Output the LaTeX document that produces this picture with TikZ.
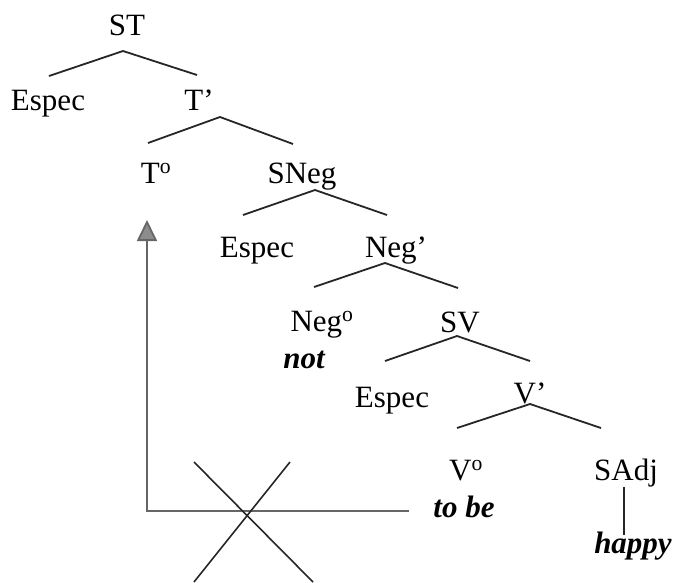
\documentclass[tikz,border=0pt]{standalone}
\usepackage{fontspec}
\setmainfont{Liberation Serif}
\usetikzlibrary{arrows.meta}
\begin{document}
\begin{tikzpicture}[x=1pt,y=-1pt,
  lbl/.style={anchor=base,inner sep=0pt,font=\fontsize{31}{36}\selectfont},
  lex/.style={anchor=base,inner sep=0pt,font=\fontsize{31}{36}\selectfont\bfseries\itshape},
  branch/.style={line width=1.8pt,black!85},
  movearrow/.style={line width=1.8pt,black!60,-{Triangle[length=21pt,width=20pt,fill=black!45]}},
  cross/.style={line width=1.6pt,black!85}]
\useasboundingbox (0,0) rectangle (676,582);
% labels
\node[lbl] (ST) at (127,35) {ST};
\node[lbl] (esp1) at (48,110) {Espec};
\node[lbl] (Tbar) at (199,110) {T’};
\node[lbl] (T0) at (156,183) {T\textsuperscript{o}};
\node[lbl] (SNeg) at (302,183) {SNeg};
\node[lbl] (esp2) at (257,257) {Espec};
\node[lbl] (Negbar) at (396,257) {Neg’};
\node[lbl] (Neg0) at (322,331) {Neg\textsuperscript{o}};
\node[lex] (not) at (304,368) {not};
\node[lbl] (SV) at (460,332) {SV};
\node[lbl] (esp3) at (392,407) {Espec};
\node[lbl] (Vbar) at (530,403) {V’};
\node[lbl] (V0) at (466,480) {V\textsuperscript{o}};
\node[lex] (tobe) at (464,517) {to be};
\node[lbl] (SAdj) at (626,480) {SAdj};
\node[lex] (happy) at (633,553) {happy};
% branch points
\coordinate (aST) at (123,51);  \coordinate (lST) at (49,76);  \coordinate (rST) at (197,75);
\coordinate (aT) at (220,117);  \coordinate (lT) at (148,143); \coordinate (rT) at (293,144);
\coordinate (aN) at (315,190);  \coordinate (lN) at (243,215); \coordinate (rN) at (387,215);
\coordinate (aNb) at (385,263); \coordinate (lNb) at (314,287); \coordinate (rNb) at (458,288);
\coordinate (aSV) at (457,336); \coordinate (lSV) at (385,361); \coordinate (rSV) at (530,361);
\coordinate (aV) at (530,404);  \coordinate (lV) at (457,428);  \coordinate (rV) at (601,428);
\coordinate (adjT) at (624,487); \coordinate (adjB) at (624,535);
\draw[branch] (lST) -- (aST) -- (rST);
\draw[branch] (lT) -- (aT) -- (rT);
\draw[branch] (lN) -- (aN) -- (rN);
\draw[branch] (lNb) -- (aNb) -- (rNb);
\draw[branch] (lSV) -- (aSV) -- (rSV);
\draw[branch] (lV) -- (aV) -- (rV);
\draw[branch,line width=1.2pt] (adjT) -- (adjB);
% movement arrow
\coordinate (mvStart) at (409,511);
\coordinate (mvCorner) at (147,511);
\coordinate (mvTip) at (147,220);
\draw[movearrow] (mvStart) -- (mvCorner) -- (mvTip);
% cross
\coordinate (x1a) at (194,462); \coordinate (x1b) at (313,582);
\coordinate (x2a) at (290,462); \coordinate (x2b) at (194,582);
\draw[cross] (x1a) -- (x1b);
\draw[cross] (x2a) -- (x2b);
\end{tikzpicture}
\end{document}
